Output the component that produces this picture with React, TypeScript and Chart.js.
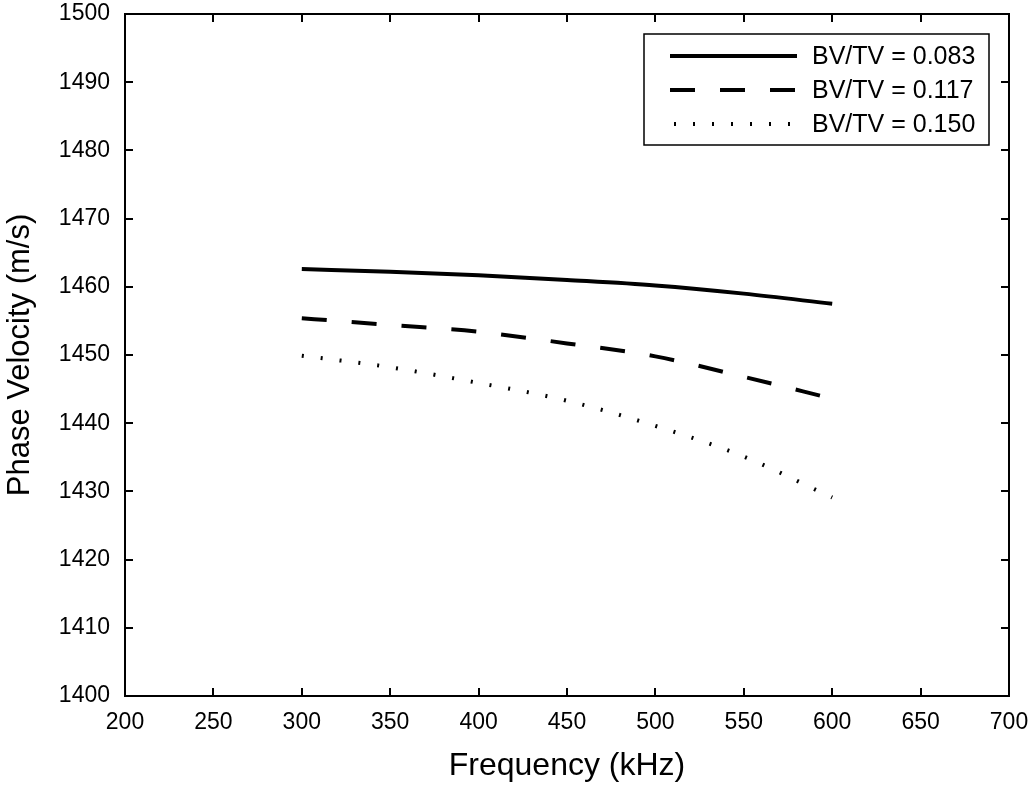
import React, { useEffect, useRef } from "react";
import { Chart, registerables } from "chart.js";

Chart.register(...registerables);

const frequencies = [300, 350, 400, 450, 500, 550, 600];
const series083 = [1462.6, 1462.2, 1461.7, 1461.0, 1460.2, 1459.0, 1457.5];
const series117 = [1455.4, 1454.4, 1453.4, 1451.7, 1449.8, 1446.8, 1443.6];
const series150 = [1449.9, 1448.2, 1445.9, 1443.3, 1439.6, 1435.1, 1429.1];
const seriesLabels = ["BV/TV = 0.083", "BV/TV = 0.117", "BV/TV = 0.150"];
const xTitle = "Frequency (kHz)";
const yTitle = "Phase Velocity (m/s)";

const FONT = "'Liberation Sans', Arial, sans-serif";

const framePlugin = {
  id: "frameTicks",
  afterDraw(chart: any) {
    const { ctx, chartArea } = chart;
    const { left, right, top, bottom } = chartArea;
    const xs = chart.scales.x;
    const ys = chart.scales.y;
    const tl = 8;
    ctx.save();
    ctx.strokeStyle = "#000";
    ctx.lineWidth = 2;
    ctx.setLineDash([]);
    ctx.beginPath();
    xs.ticks.forEach((t: any) => {
      const px = Math.round(xs.getPixelForValue(t.value));
      if (px <= left + 1 || px >= right - 1) return;
      ctx.moveTo(px, bottom);
      ctx.lineTo(px, bottom - tl);
      ctx.moveTo(px, top);
      ctx.lineTo(px, top + tl);
    });
    ys.ticks.forEach((t: any) => {
      const py = Math.round(ys.getPixelForValue(t.value));
      if (py <= top + 1 || py >= bottom - 1) return;
      ctx.moveTo(left, py);
      ctx.lineTo(left + tl, py);
      ctx.moveTo(right, py);
      ctx.lineTo(right - tl, py);
    });
    ctx.stroke();
    ctx.strokeRect(left, top, right - left, bottom - top);

    // legend
    const bx = 644, by = 34, bw = 345, bh = 111;
    ctx.fillStyle = "#fff";
    ctx.fillRect(bx, by, bw, bh);
    ctx.lineWidth = 1.5;
    ctx.strokeRect(bx, by, bw, bh);
    ctx.font = `25px ${FONT}`;
    ctx.textBaseline = "middle";
    ctx.textAlign = "left";
    chart.data.datasets.forEach((ds: any, i: number) => {
      const y = 56 + i * 34;
      ctx.strokeStyle = ds.borderColor;
      ctx.lineWidth = ds.borderWidth;
      ctx.lineCap = "butt";
      ctx.setLineDash(ds.borderDash || []);
      ctx.beginPath();
      ctx.moveTo(i === 2 ? 674 : 670, y);
      ctx.lineTo(797, y);
      ctx.stroke();
      ctx.setLineDash([]);
      ctx.fillStyle = "#000";
      ctx.fillText(ds.label, 812, y + 1);
    });
    ctx.restore();
  },
};

export default function App() {
  const ref = useRef<HTMLCanvasElement | null>(null);
  useEffect(() => {
    if (!ref.current) return;
    const mk = (vals: number[]) => frequencies.map((f, i) => ({ x: f, y: vals[i] }));
    const chart = new Chart(ref.current, {
      type: "line",
      data: {
        datasets: [
          { label: seriesLabels[0], data: mk(series083), borderColor: "#000", borderWidth: 4, borderDash: [], pointRadius: 0, fill: false, tension: 0.4, cubicInterpolationMode: "monotone" },
          { label: seriesLabels[1], data: mk(series117), borderColor: "#000", borderWidth: 4, borderDash: [25, 25], pointRadius: 0, fill: false, tension: 0.4, cubicInterpolationMode: "monotone" },
          { label: seriesLabels[2], data: mk(series150), borderColor: "#000", borderWidth: 4, borderDash: [2, 17], pointRadius: 0, fill: false, tension: 0.4, cubicInterpolationMode: "monotone" },
        ],
      } as any,
      options: {
        animation: false,
        responsive: false,
        devicePixelRatio: 1,
        layout: { padding: { top: 14, right: 26, left: 0, bottom: 0 } },
        plugins: { legend: { display: false }, tooltip: { enabled: false } },
        scales: {
          x: {
            type: "linear",
            min: 200,
            max: 700,
            grid: { display: false },
            border: { display: false },
            ticks: { stepSize: 50, color: "#000", font: { family: FONT, size: 23 }, padding: 5, maxRotation: 0, callback: (v: any) => String(v) },
            title: { display: true, text: xTitle, color: "#000", font: { family: FONT, size: 32 }, padding: { top: 0, bottom: 4 } },
            afterFit: (s: any) => { s.height = 93; s.paddingLeft = 0; s.paddingRight = 0; },
          },
          y: {
            type: "linear",
            min: 1400,
            max: 1500,
            grid: { display: false },
            border: { display: false },
            ticks: { stepSize: 10, color: "#000", font: { family: FONT, size: 23 }, padding: 7, callback: (v: any) => String(v) },
            title: { display: true, text: yTitle, color: "#000", font: { family: FONT, size: 31 }, padding: { top: 2, bottom: 0 } },
            afterFit: (s: any) => { s.width = 125; s.paddingTop = 0; s.paddingBottom = 0; },
          },
        },
      } as any,
      plugins: [framePlugin],
    });
    return () => chart.destroy();
  }, []);
  return (
    <div style={{ position: "absolute", left: 0, top: 0, width: 1035, height: 789, background: "#fff" }}>
      <canvas ref={ref} width={1035} height={789} />
    </div>
  );
}
